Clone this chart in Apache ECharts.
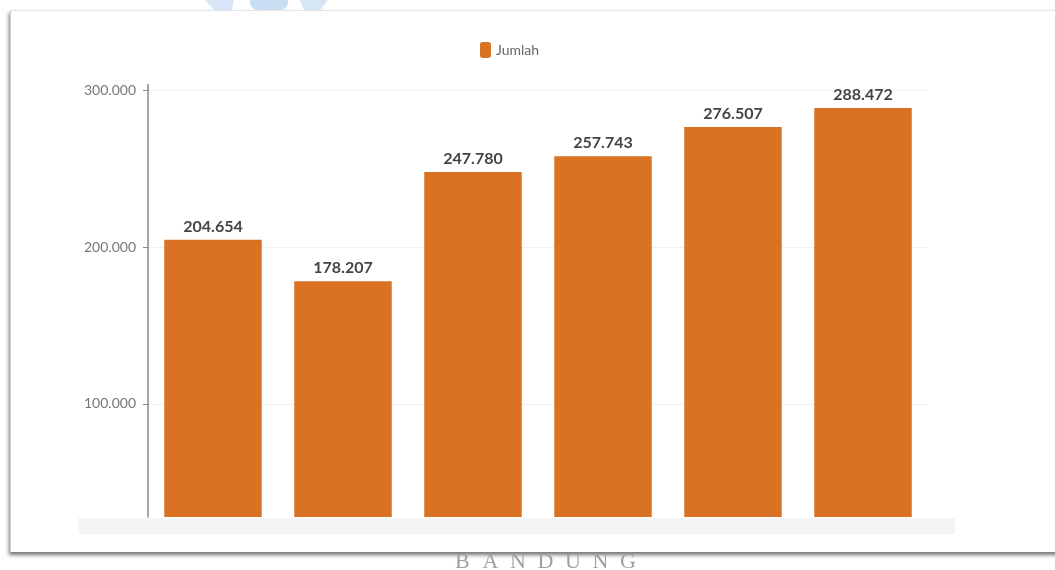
<!DOCTYPE html>
<html>
<head>
<meta charset="utf-8">
<script src="https://cdn.jsdelivr.net/npm/echarts@6/dist/echarts.min.js"></script>
<style>
  html, body { margin: 0; padding: 0; background: #ffffff; }
  #wrap { position: relative; width: 1055px; height: 570px; overflow: hidden; background: #fff; }
  #card { position: absolute; left: 10px; top: 10px; width: 1120px; height: 541px; background: #fff;
          border-top: 1px solid #e4e4e4; border-left: 1px solid #d0d0d0;
          box-shadow: -1px 3px 4px rgba(0,0,0,0.55); }
  #chart { position: absolute; left: 0; top: 0; width: 1055px; height: 570px; }
</style>
</head>
<body>
<div id="wrap">
  <div id="card"></div>
  <div id="chart"></div>
</div>
<script>
const categories = ['1', '2', '3', '4', '5', '6'];
const jumlah = [204654, 178207, 247780, 257743, 276507, 288472];
const yTicks = [100000, 200000, 300000];
const seriesName = 'Jumlah';
const watermark = ['B', 'A', 'N', 'D', 'U', 'N', 'G'];

function fmt(v) {
  return String(Math.round(v)).replace(/\B(?=(\d{3})+(?!\d))/g, '.');
}

const chart = echarts.init(document.getElementById('chart'), null, { renderer: 'canvas' });

const graphics = [
  { type: 'rect', shape: { x: 78, y: 518, width: 877, height: 16 }, style: { fill: '#f5f5f5' }, silent: true },
  { type: 'line', shape: { x1: 148, y1: 84, x2: 148, y2: 91 }, style: { stroke: '#8a8a8a', lineWidth: 1.5 }, silent: true },
  { type: 'polygon', shape: { points: [[205, 0], [234, 0], [232, 10], [214, 10]] }, style: { fill: '#d6e6f6' }, silent: true },
  { type: 'rect', shape: { x: 250, y: 0, width: 38, height: 10, r: [0, 0, 8, 8] }, style: { fill: '#c9def3' }, silent: true },
  { type: 'polygon', shape: { points: [[300, 0], [328, 0], [320, 10], [304, 10]] }, style: { fill: '#d6e6f6' }, silent: true }
];
watermark.forEach(function (ch, i) {
  graphics.push({
    type: 'text', x: 455 + i * 27.5, y: 551, silent: true,
    style: { text: ch, fill: '#a0a0a0', font: '22px "Liberation Serif", serif' }
  });
});

chart.setOption({
  backgroundColor: 'transparent',
  animation: false,
  legend: {
    data: [seriesName],
    left: 475, top: 37,
    icon: 'roundRect', itemWidth: 11, itemHeight: 16, itemGap: 5,
    textStyle: { color: '#666', fontSize: 14, fontFamily: 'Lato' }
  },
  grid: { left: 148, right: 127, top: 90, bottom: 53 },
  xAxis: {
    type: 'category', data: categories,
    axisLine: { show: false }, axisTick: { show: false }, axisLabel: { show: false }
  },
  yAxis: {
    type: 'value', min: 28000, max: 300000,
    axisLine: { show: true, lineStyle: { color: '#8a8a8a', width: 1.5 } },
    axisTick: { show: true, length: 5, customValues: yTicks, lineStyle: { color: '#8a8a8a' } },
    axisLabel: { customValues: yTicks, formatter: fmt, color: '#777', fontSize: 14, fontFamily: 'Lato', margin: 12 },
    splitLine: { show: true, lineStyle: { color: '#f0f0f0', width: 1 } }
  },
  series: [{
    name: seriesName, type: 'bar', data: jumlah,
    barCategoryGap: '25%',
    itemStyle: { color: '#d97323' },
    label: {
      show: true, position: 'top', distance: 5, formatter: function (p) { return fmt(p.value); },
      color: '#444', fontWeight: 'bold', fontSize: 16, fontFamily: 'Lato'
    }
  }],
  graphic: graphics
});
</script>
</body>
</html>
